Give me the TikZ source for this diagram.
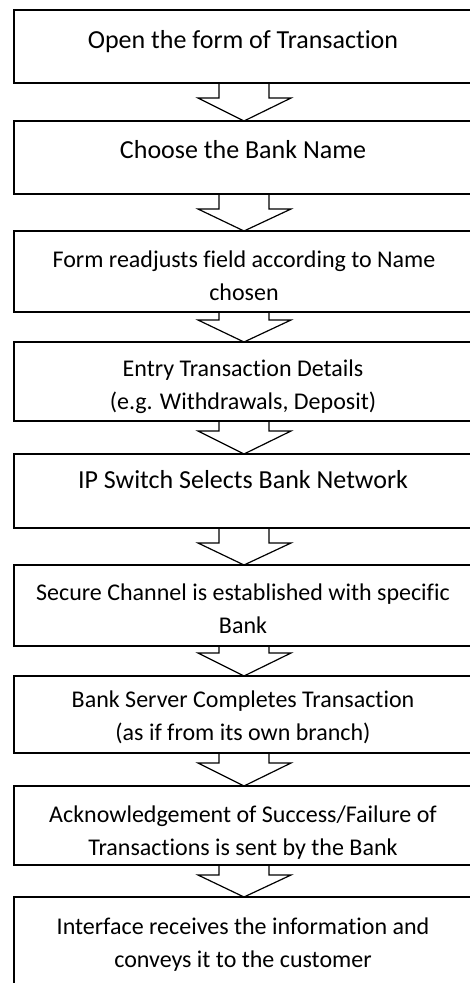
\documentclass[tikz,border=0pt]{standalone}
\usepackage{fontspec}
\setmainfont{Carlito}[Ligatures=NoCommon]
\usetikzlibrary{calc}
\tikzset{
  box/.style={draw=black, line width=1.2pt, rectangle, inner sep=0pt, outer sep=0pt, minimum width=466pt},
  txt/.style={inner sep=0pt, align=center, text=black},
  big/.style={font=\fontsize{26}{32}\selectfont},
  small/.style={font=\fontsize{24}{33}\selectfont},
  arr/.style={draw=black, line width=1.2pt, line join=miter}
}
\newcommand\blockarr[3]{%
  \draw[arr] ($(#1.south)+(-28,0)$) -- ($(#1.south)+(-28,#3)$) -- ($(#1.south)+(-49,#3)$)
    -- ($(#2.north)+(-3,0)$) -- ($(#1.south)+(44,#3)$) -- ($(#1.south)+(22,#3)$) -- ($(#1.south)+(22,0)$);}
\begin{document}
\begin{tikzpicture}[x=1pt,y=-1pt]
\useasboundingbox (0,0) rectangle (470,983);
\clip (0,0) rectangle (470,983);
\fill[white] (0,0) rectangle (470,983);
% boxes: x from 14 to 480
\node[box, minimum height=73pt] (b1) at (247,46.5) {};
\node[box, minimum height=73pt] (b2) at (247,157.5) {};
\node[box, minimum height=81pt] (b3) at (247,271.5) {};
\node[box, minimum height=79pt] (b4) at (247,381.5) {};
\node[box, minimum height=74pt] (b5) at (247,491) {};
\node[box, minimum height=81pt] (b6) at (247,605.5) {};
\node[box, minimum height=77pt] (b7) at (247,714.5) {};
\node[box, minimum height=79pt] (b8) at (247,825.5) {};
\node[box, minimum height=110pt] (b9) at (247,952) {};
% texts
\node[txt, big] (t1) at (243,42) {Open the form of Transaction};
\node[txt, big] (t2) at (243,150) {Choose the Bank Name};
\node[txt, small] (t3) at (244,275.5) {Form readjusts field according to Name\\chosen};
\node[txt, small] (t4) at (243,386.5) {Entry Transaction Details\\(e.g. Withdrawals, Deposit)};
\node[txt, big] (t5) at (243,480) {IP Switch Selects Bank Network};
\node[txt, small] (t6) at (243,609) {Secure Channel is established with specific\\Bank};
\node[txt, small] (t7) at (243,717.5) {Bank Server Completes Transaction\\(as if from its own branch)};
\node[txt, small] (t8) at (243,832.5) {Acknowledgement of Success/Failure of\\Transactions is sent by the Bank};
\node[txt, small] (t9) at (243,944.5) {Interface receives the information and\\conveys it to the customer};
% block arrows
\blockarr{b1}{b2}{15}
\blockarr{b2}{b3}{15}
\blockarr{b3}{b4}{8}
\blockarr{b4}{b5}{10}
\blockarr{b5}{b6}{15}
\blockarr{b6}{b7}{7}
\blockarr{b7}{b8}{10}
\blockarr{b8}{b9}{10}
\end{tikzpicture}
\end{document}
